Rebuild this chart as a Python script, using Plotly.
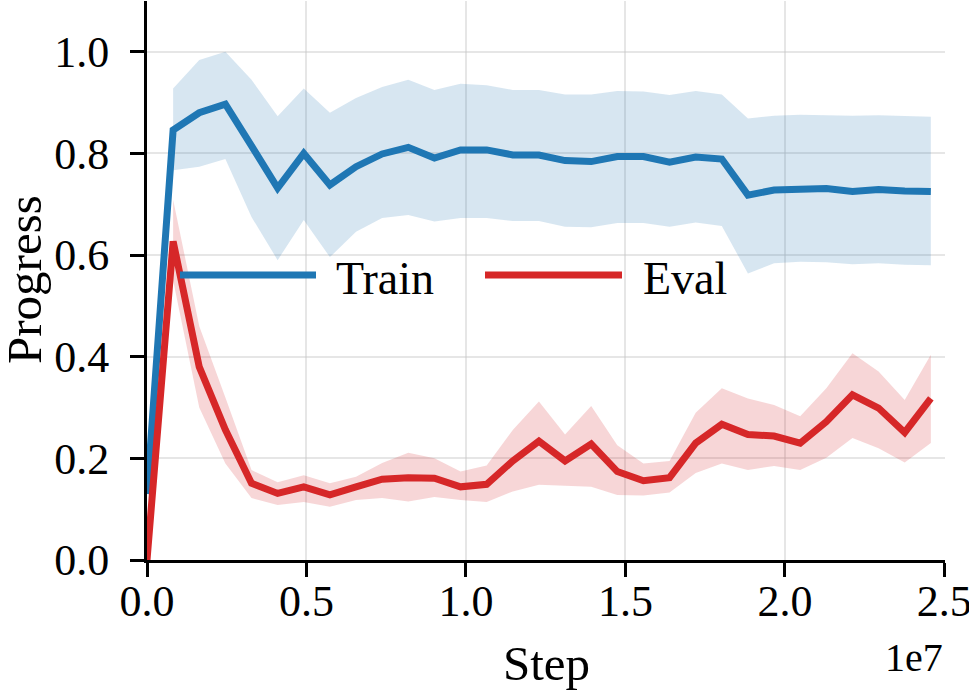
import plotly.graph_objects as go

# ---------------- data ----------------
step_interval = 819200
n_points = 31
steps = [i * step_interval for i in range(n_points)]

train_mean = [0.13, 0.846, 0.880, 0.897, 0.815, 0.732, 0.800, 0.738, 0.774, 0.799,
              0.812, 0.791, 0.807, 0.807, 0.797, 0.797, 0.786, 0.784, 0.794, 0.794,
              0.783, 0.793, 0.789, 0.718, 0.728, 0.731, 0.731, 0.725, 0.729, 0.726, 0.725]
train_upper = [None, 0.928, 0.984, 1.000, 0.945, 0.873, 0.928, 0.880, 0.909, 0.931,
               0.945, 0.925, 0.937, 0.934, 0.925, 0.925, 0.916, 0.916, 0.923, 0.922,
               0.915, 0.923, 0.916, 0.869, 0.874, 0.876, 0.875, 0.874, 0.875, 0.873, 0.872]
train_lower = [None, 0.767, 0.774, 0.789, 0.675, 0.590, 0.669, 0.596, 0.646, 0.673,
               0.679, 0.666, 0.673, 0.673, 0.667, 0.667, 0.656, 0.655, 0.663, 0.663,
               0.656, 0.664, 0.657, 0.564, 0.584, 0.587, 0.586, 0.582, 0.584, 0.581, 0.580]

eval_mean = [0.0, 0.627, 0.380, 0.256, 0.151, 0.131, 0.144, 0.128, 0.144, 0.159,
             0.162, 0.161, 0.144, 0.149, 0.195, 0.234, 0.195, 0.228, 0.174, 0.156,
             0.162, 0.230, 0.267, 0.247, 0.244, 0.230, 0.272, 0.325, 0.299, 0.251, 0.318]
eval_upper = [None, 0.709, 0.460, 0.320, 0.177, 0.153, 0.167, 0.151, 0.164, 0.191,
              0.211, 0.200, 0.174, 0.186, 0.256, 0.312, 0.247, 0.303, 0.226, 0.190,
              0.195, 0.290, 0.338, 0.318, 0.305, 0.283, 0.338, 0.407, 0.371, 0.315, 0.404]
eval_lower = [None, 0.550, 0.300, 0.190, 0.122, 0.108, 0.114, 0.105, 0.118, 0.122,
              0.115, 0.124, 0.118, 0.114, 0.135, 0.148, 0.146, 0.144, 0.128, 0.127,
              0.133, 0.171, 0.190, 0.177, 0.185, 0.177, 0.201, 0.240, 0.220, 0.192, 0.230]

series_names = ["Train", "Eval"]
x_tick_vals = [0, 5e6, 1e7, 1.5e7, 2e7, 2.5e7]
x_tick_text = ["0.0", "0.5", "1.0", "1.5", "2.0", "2.5"]
y_tick_vals = [0.0, 0.2, 0.4, 0.6, 0.8, 1.0]
y_tick_text = ["0.0", "0.2", "0.4", "0.6", "0.8", "1.0"]

BLUE = "#1f77b4"
RED = "#d62728"
BLUE_FILL = "rgba(31,119,180,0.18)"
RED_FILL = "rgba(214,39,40,0.19)"
FONT = "Liberation Serif"
FS_TICK = 44
FS_LEGEND = 46
FS_LABEL = 49
FS_OFFSET = 40

fig = go.Figure()


def add_band(upper, lower, fill):
    xs = [s for s, u in zip(steps, upper) if u is not None]
    up = [u for u in upper if u is not None]
    lo = [l for l in lower if l is not None]
    fig.add_trace(go.Scatter(x=xs + xs[::-1], y=up + lo[::-1], fill="toself",
                             fillcolor=fill, line=dict(width=0), mode="lines",
                             hoverinfo="skip", showlegend=False))


add_band(train_upper, train_lower, BLUE_FILL)
add_band(eval_upper, eval_lower, RED_FILL)
fig.add_trace(go.Scatter(x=steps, y=train_mean, mode="lines", name=series_names[0],
                         line=dict(color=BLUE, width=7), showlegend=False))
fig.add_trace(go.Scatter(x=steps, y=eval_mean, mode="lines", name=series_names[1],
                         line=dict(color=RED, width=7), showlegend=False))

# plot-area geometry (pixels)
L, R, T, B = 147, 24, 1, 132
W, H = 969, 692
pw, ph = W - L - R, H - T - B


def px_x(px):
    return (px - L) / pw


def px_y(py):
    return (H - B - py) / ph


# manual legend (long line samples, no frame)
legend_items = [(series_names[0], BLUE, 180, 316, 334), (series_names[1], RED, 485, 622, 641)]
for name, col, x0, x1, tx in legend_items:
    fig.add_shape(type="line", xref="paper", yref="paper",
                  x0=px_x(x0), x1=px_x(x1), y0=px_y(275), y1=px_y(275),
                  line=dict(color=col, width=7))
    fig.add_annotation(text=name, xref="paper", yref="paper", x=px_x(tx), y=px_y(278),
                       xanchor="left", yanchor="middle", showarrow=False,
                       font=dict(family=FONT, size=FS_LEGEND, color="black"))

# axis titles and offset text
fig.add_annotation(text="Progress", xref="paper", yref="paper", x=px_x(24), y=px_y(280),
                   textangle=-90, xanchor="center", yanchor="middle", showarrow=False,
                   font=dict(family=FONT, size=FS_LABEL, color="black"))
fig.add_annotation(text="Step", xref="paper", yref="paper", x=px_x(546), y=px_y(664),
                   xanchor="center", yanchor="middle", showarrow=False,
                   font=dict(family=FONT, size=FS_LABEL, color="black"))
fig.add_annotation(text="1e7", xref="paper", yref="paper", x=px_x(945), y=px_y(657),
                   xanchor="right", yanchor="middle", showarrow=False,
                   font=dict(family=FONT, size=FS_OFFSET, color="black"))

axis_common = dict(
    showline=True, linecolor="black", linewidth=3,
    ticks="outside", ticklen=14, tickwidth=3, tickcolor="black",
    showgrid=True, gridcolor="rgba(200,200,200,0.45)", gridwidth=2,
    zeroline=False, tickfont=dict(family=FONT, size=FS_TICK, color="black"),
    ticklabeloverflow="allow", automargin=False,
)

fig.update_xaxes(range=[0, 2.5e7 + 2e4], tickvals=x_tick_vals, ticktext=x_tick_text,
                 ticklabelstandoff=-14, **axis_common)
fig.update_yaxes(range=[0, 1.1], tickvals=y_tick_vals, ticktext=y_tick_text,
                 ticklabelstandoff=12, **axis_common)

fig.update_layout(
    width=W, height=H,
    margin=dict(l=L, r=R, t=T, b=B, pad=0),
    plot_bgcolor="white", paper_bgcolor="white",
    showlegend=False,
    font=dict(family=FONT, size=FS_TICK, color="black"),
)

fig.write_html("out.html")
